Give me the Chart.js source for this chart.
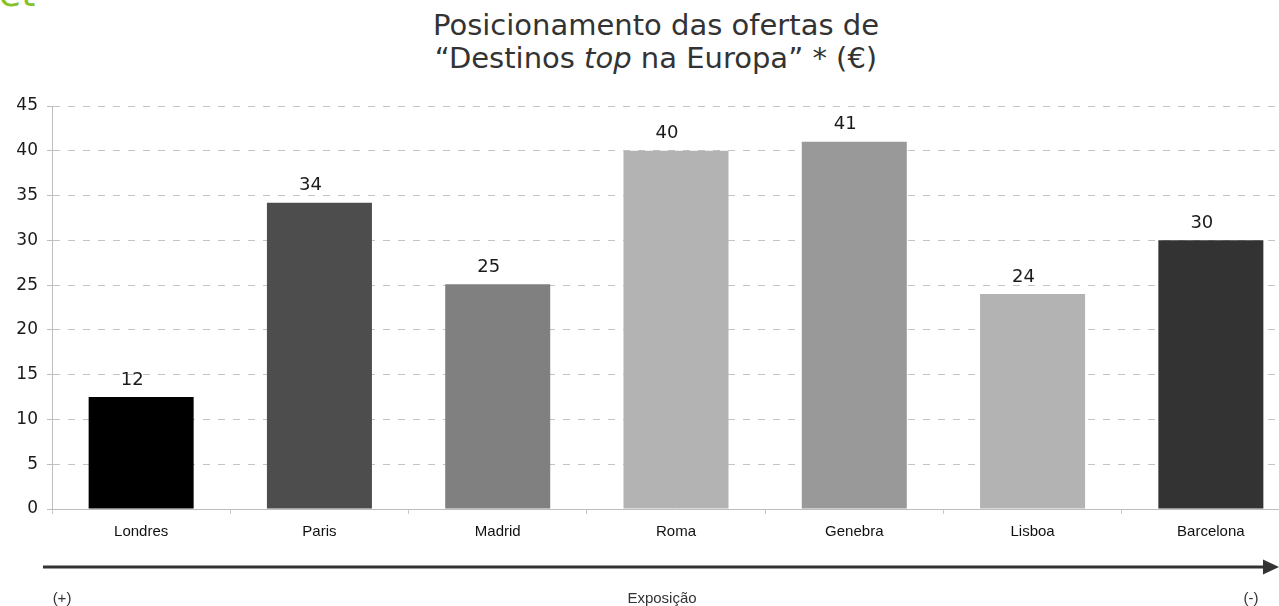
<!DOCTYPE html>
<html>
<head>
<meta charset="utf-8">
<script src="https://cdn.jsdelivr.net/npm/chart.js@4.4.1/dist/chart.umd.min.js"></script>
<style>
  html, body { margin: 0; padding: 0; width: 1279px; height: 606px; overflow: hidden; background: #fff; }
  #wrap { position: absolute; left: 0; top: 0; width: 1310px; height: 606px; }
  .title { position: absolute; left: 0; top: 9px; width: 1312px; text-align: center;
           font-family: "DejaVu Sans", sans-serif; font-size: 29px; line-height: 33px; color: #333; }
  .logo { position: absolute; left: -1px; top: -24px; font-family: "DejaVu Sans", sans-serif;
          font-size: 36px; line-height: 36px; color: #84c225; }
  .bt { position: absolute; top: 589px; font-family: "Liberation Sans", Arial, sans-serif;
        font-size: 15px; line-height: 18px; color: #333; transform: translateX(-50%); white-space: nowrap; }
  svg.arrow { position: absolute; left: 0; top: 0; }
</style>
</head>
<body>
<div class="logo">et</div>
<div class="title">Posicionamento das ofertas de<br>“Destinos <i>top</i> na Europa” * (€)</div>
<div id="wrap"><canvas id="c"></canvas></div>
<svg class="arrow" width="1279" height="606">
  <line x1="43" y1="567" x2="1265" y2="567" stroke="#333" stroke-width="3"/>
  <polygon points="1263,559.5 1279,567 1263,574.5" fill="#333"/>
</svg>
<div class="bt" style="left:62px">(+)</div>
<div class="bt" style="left:662px">Exposição</div>
<div class="bt" style="left:1251px">(-)</div>
<script>
const categories = ["Londres", "Paris", "Madrid", "Roma", "Genebra", "Lisboa", "Barcelona"];
const values = [12.5, 34.2, 25.1, 40, 41, 24, 30];
const valueLabels = ["12", "34", "25", "40", "41", "24", "30"];
const barColors = ["#000000", "#4d4d4d", "#808080", "#b3b3b3", "#999999", "#b3b3b3", "#333333"];
const yTicks = [0, 5, 10, 15, 20, 25, 30, 35, 40, 45];

const labelPlugin = {
  id: "barLabels",
  afterDatasetsDraw(chart) {
    const ctx = chart.ctx;
    const meta = chart.getDatasetMeta(0);
    ctx.save();
    ctx.font = "18px 'DejaVu Sans'";
    ctx.fillStyle = "#1a1a1a";
    ctx.textAlign = "center";
    ctx.textBaseline = "middle";
    meta.data.forEach((bar, i) => {
      ctx.fillText(valueLabels[i], bar.x - 9, bar.y - 17);
    });
    ctx.restore();
  }
};

new Chart(document.getElementById("c"), {
  type: "bar",
  data: {
    labels: categories,
    datasets: [{
      data: values,
      backgroundColor: barColors,
      borderWidth: 0,
      categoryPercentage: 1,
      barPercentage: 0.589
    }]
  },
  options: {
    responsive: true,
    maintainAspectRatio: false,
    animation: false,
    layout: { padding: { top: 106, right: 10, left: 0, bottom: 0 } },
    plugins: { legend: { display: false }, tooltip: { enabled: false } },
    scales: {
      x: {
        afterFit(scale) { scale.height = 97; },
        grid: { drawOnChartArea: false, drawTicks: true, tickLength: 5, color: "#c8c8c8", offset: true },
        border: { display: true, color: "#bdbdbd", width: 1 },
        ticks: { padding: 9, color: "#111", font: { family: "'Liberation Sans', Arial, sans-serif", size: 15 }, maxRotation: 0, autoSkip: false }
      },
      y: {
        min: 0, max: 45,
        afterFit(scale) { scale.width = 52; },
        afterBuildTicks(scale) { scale.ticks = yTicks.map(v => ({ value: v })); },
        grid: { color: "#c4c4c4", tickLength: 5, tickColor: "#bdbdbd", tickBorderDash: [] },
        border: { display: true, color: "#bdbdbd", width: 1, dash: [7, 8] },
        ticks: { padding: 9, color: "#1a1a1a", font: { family: "'DejaVu Sans'", size: 17 } }
      }
    }
  },
  plugins: [labelPlugin]
});
</script>
</body>
</html>
